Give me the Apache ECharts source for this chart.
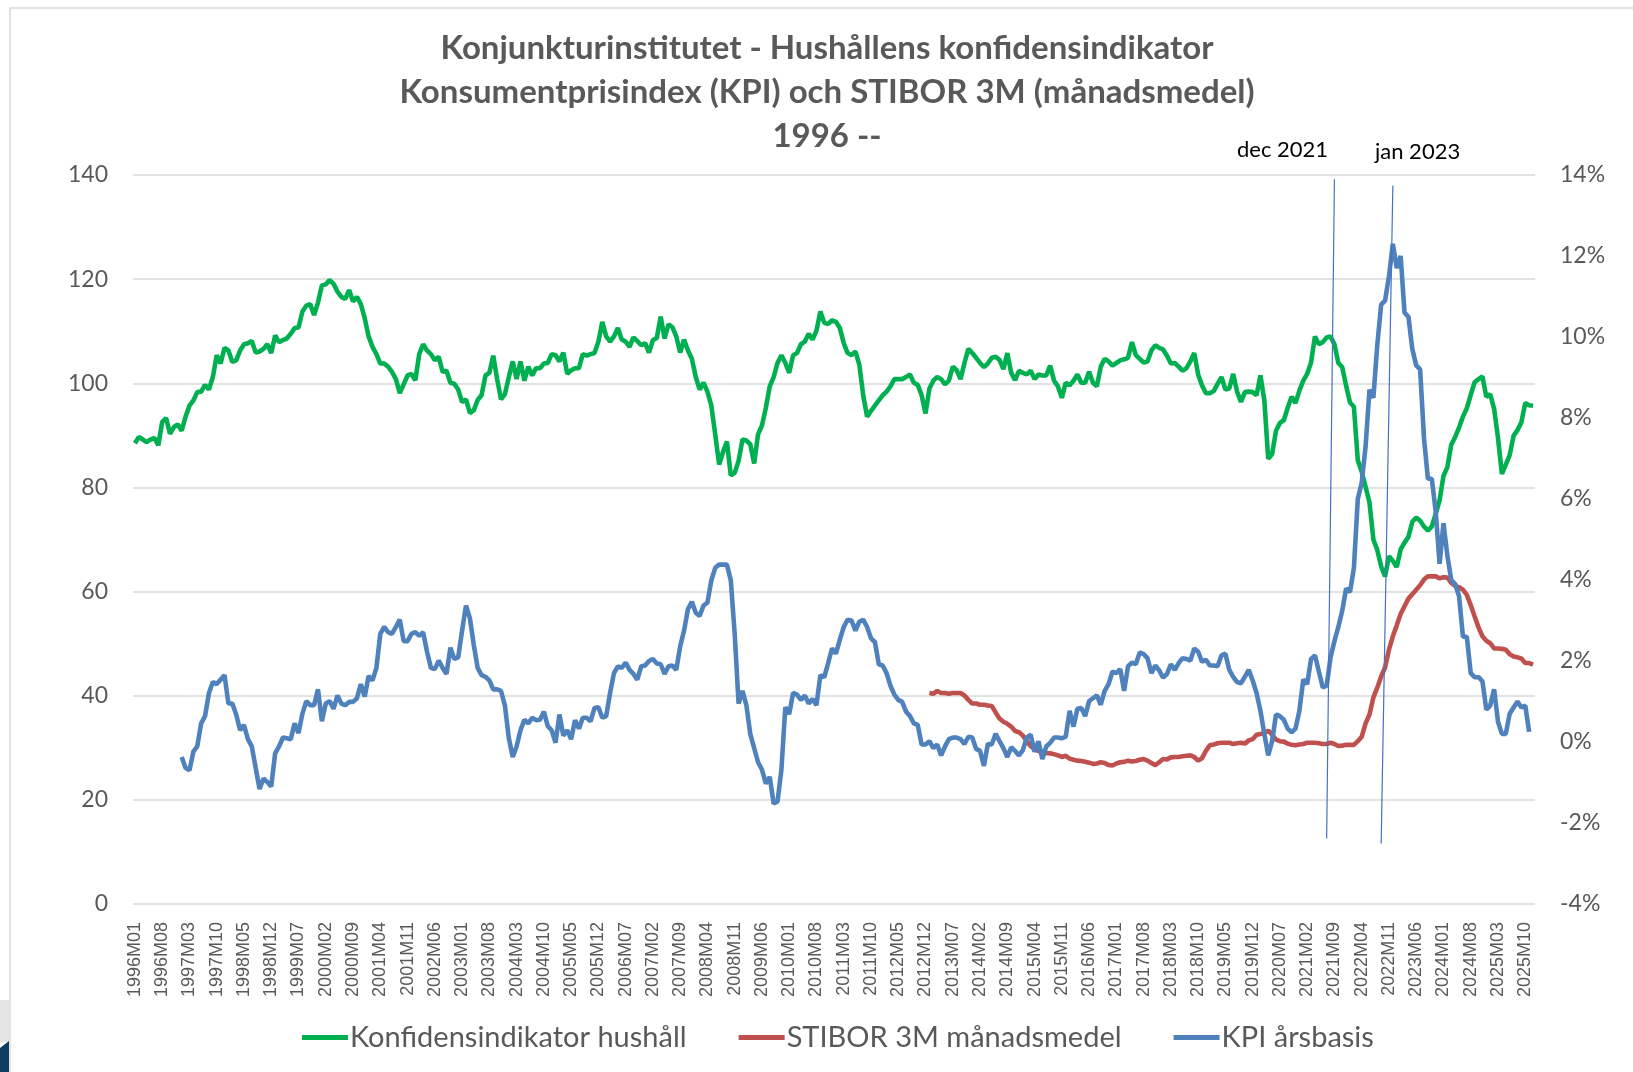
<!DOCTYPE html>
<html>
<head>
<meta charset="utf-8">
<title>Hushållens konfidensindikator, KPI och STIBOR 3M</title>
<script src="https://cdn.jsdelivr.net/npm/echarts/dist/echarts.min.js"></script>
<style>
html, body { margin: 0; padding: 0; background: #fff; }
#chart { width: 1633px; height: 1072px; }
</style>
</head>
<body>
<div id="chart"></div>
<script>
// månader 1996M01 .. 2025M12
const months = []
for (let y = 1996; y <= 2025; y++) {
  for (let m = 1; m <= 12; m++) months.push(y + 'M' + (m < 10 ? '0' + m : m))
}

// Konfidensindikator hushåll, från 1996M01
const konfidens = [
  88.5, 89.7, 89.2, 88.7, 89.2, 89.5, 88.1, 92.6, 93.3, 90.3, 91.6, 92.1,
  90.9, 93.6, 95.7, 96.7, 98.3, 98.4, 99.7, 98.8, 101.2, 105.4, 103.8, 106.8,
  106.3, 104.1, 104.4, 106.3, 107.5, 107.7, 108.1, 105.9, 106.1, 106.6, 107.5, 105.8,
  109.2, 107.9, 108.3, 108.6, 109.5, 110.6, 110.7, 113.8, 114.9, 115.2, 113.1, 115.5,
  118.8, 119.0, 119.8, 119.1, 117.6, 116.6, 116.2, 117.9, 115.7, 116.6, 115.2, 112.5,
  109.0, 107.0, 105.6, 103.8, 103.8, 103.2, 102.2, 100.8, 98.1, 99.8, 101.5, 101.8,
  100.6, 105.6, 107.5, 106.3, 105.6, 104.4, 105.1, 102.2, 102.4, 100.1, 99.9, 98.8,
  96.4, 96.9, 94.3, 94.8, 96.8, 97.7, 101.5, 102.0, 105.3, 100.8, 96.9, 97.9,
  101.2, 104.2, 100.8, 104.2, 100.5, 103.2, 101.5, 102.9, 102.9, 103.8, 103.9, 105.6,
  105.4, 104.2, 105.9, 101.8, 102.5, 102.9, 102.9, 105.6, 105.3, 105.6, 105.8, 108.0,
  111.8, 109.0, 108.0, 109.0, 110.6, 108.4, 108.0, 107.0, 108.8, 108.1, 107.3, 107.7,
  105.9, 108.3, 108.7, 112.8, 108.6, 111.3, 110.8, 109.0, 105.9, 108.4, 106.3, 104.7,
  101.2, 98.8, 100.1, 98.4, 95.7, 90.2, 84.4, 86.8, 88.8, 82.3, 82.8, 85.1,
  89.2, 89.0, 88.3, 84.6, 90.2, 91.9, 95.3, 99.4, 101.2, 103.9, 105.4, 103.9,
  102.0, 105.4, 105.8, 107.5, 108.0, 109.5, 108.4, 110.1, 113.8, 111.6, 111.4, 112.1,
  111.8, 110.6, 107.7, 105.8, 105.4, 106.1, 103.6, 97.7, 93.6, 94.7, 95.7, 96.7,
  97.7, 98.4, 99.4, 100.8, 100.8, 100.8, 101.2, 101.7, 100.1, 99.7, 97.7, 94.2,
  99.0, 100.5, 101.2, 100.8, 99.8, 100.5, 103.2, 102.5, 100.8, 103.9, 106.6, 105.8,
  104.9, 103.9, 103.1, 103.8, 104.9, 105.1, 104.5, 102.7, 105.8, 102.0, 100.6, 102.4,
  102.0, 101.7, 102.4, 100.8, 101.7, 101.5, 101.5, 103.4, 100.5, 99.4, 97.2, 100.1,
  99.6, 100.5, 101.7, 100.1, 100.1, 102.2, 100.1, 99.4, 103.2, 104.7, 104.2, 103.4,
  103.9, 104.4, 104.6, 104.9, 107.9, 105.4, 104.7, 104.0, 104.2, 106.3, 107.3, 106.8,
  106.5, 105.3, 103.8, 103.9, 103.2, 102.4, 102.9, 104.2, 105.8, 101.7, 99.6, 98.1,
  98.1, 98.5, 99.9, 101.2, 98.8, 99.0, 101.8, 98.4, 96.4, 98.3, 98.4, 98.3,
  97.7, 101.5, 96.7, 85.5, 86.4, 90.9, 92.4, 92.9, 95.3, 97.4, 96.2, 98.6,
  100.5, 101.8, 104.0, 109.0, 107.5, 107.9, 108.8, 109.0, 107.5, 103.9, 103.1, 99.5,
  96.3, 95.5, 85.2, 83.0, 80.1, 77.1, 70.0, 68.0, 64.8, 62.9, 66.8, 65.9,
  64.7, 68.1, 69.4, 70.5, 73.4, 74.2, 73.6, 72.5, 71.7, 72.5, 74.9, 77.5,
  82.2, 83.9, 88.2, 89.7, 91.5, 93.6, 95.2, 97.8, 100.2, 100.8, 101.3, 97.4,
  97.9, 95.1, 89.5, 82.6, 84.4, 86.2, 89.9, 91.0, 92.5, 96.2, 95.8, 95.7
]

// STIBOR 3M månadsmedel (%), från 2013M01
const stiborStart = '2013M01'
const stibor = [
  1.21, 1.19, 1.26, 1.21, 1.21, 1.19, 1.21, 1.21, 1.21, 1.15, 1.04, 0.95,
  0.95, 0.92, 0.92, 0.90, 0.89, 0.73, 0.58, 0.50, 0.45, 0.38, 0.27, 0.24,
  0.16, 0.03, -0.10, -0.18, -0.22, -0.24, -0.27, -0.28, -0.30, -0.33, -0.37, -0.34,
  -0.41, -0.44, -0.46, -0.47, -0.49, -0.51, -0.54, -0.53, -0.50, -0.52, -0.57, -0.58,
  -0.53, -0.50, -0.49, -0.46, -0.48, -0.47, -0.44, -0.42, -0.46, -0.52, -0.57, -0.50,
  -0.42, -0.43, -0.38, -0.37, -0.37, -0.35, -0.34, -0.33, -0.37, -0.46, -0.40, -0.22,
  -0.08, -0.06, -0.03, -0.02, -0.02, -0.02, -0.05, -0.03, -0.02, -0.04, 0.04, 0.07,
  0.18, 0.20, 0.22, 0.28, 0.18, 0.06, 0.02, 0.01, -0.04, -0.07, -0.08, -0.06,
  -0.05, -0.02, -0.02, -0.02, -0.03, -0.05, -0.05, -0.02, -0.05, -0.10, -0.09, -0.07,
  -0.07, -0.07, 0.02, 0.13, 0.46, 0.68, 1.10, 1.34, 1.62, 1.84, 2.28, 2.61,
  2.88, 3.16, 3.35, 3.54, 3.65, 3.76, 3.87, 4.01, 4.09, 4.09, 4.09, 4.04,
  4.07, 4.06, 3.93, 3.85, 3.82, 3.76, 3.63, 3.38, 3.10, 2.83, 2.61, 2.50,
  2.44, 2.31, 2.31, 2.30, 2.28, 2.17, 2.11, 2.09, 2.06, 1.95, 1.95, 1.91
]

// KPI årsbasis (%), från 1997M01
const kpiStart = '1997M01'
const kpi = [
  -0.37, -0.64, -0.70, -0.24, -0.11, 0.46, 0.64, 1.21, 1.48, 1.43, 1.54, 1.65,
  0.95, 0.95, 0.68, 0.29, 0.42, 0.07, -0.11, -0.64, -1.16, -0.90, -0.99, -1.10,
  -0.28, -0.11, 0.11, 0.09, 0.07, 0.46, 0.22, 0.70, 1.01, 0.91, 0.91, 1.30,
  0.51, 0.95, 1.01, 0.82, 1.15, 0.95, 0.91, 0.99, 0.99, 1.08, 1.43, 1.12,
  1.63, 1.52, 1.83, 2.67, 2.84, 2.71, 2.67, 2.84, 3.02, 2.49, 2.49, 2.67,
  2.71, 2.62, 2.71, 2.23, 1.83, 1.80, 2.01, 1.83, 1.68, 2.33, 2.05, 2.09,
  2.75, 3.37, 3.06, 2.40, 1.83, 1.65, 1.61, 1.52, 1.30, 1.30, 1.26, 0.90,
  0.10, -0.37, -0.11, 0.29, 0.55, 0.46, 0.60, 0.54, 0.55, 0.75, 0.39, 0.29,
  -0.02, 0.68, 0.16, 0.29, 0.07, 0.54, 0.33, 0.60, 0.60, 0.51, 0.84, 0.86,
  0.60, 0.64, 1.21, 1.70, 1.87, 1.83, 1.96, 1.78, 1.68, 1.54, 1.87, 1.89,
  2.00, 2.05, 1.94, 1.92, 1.68, 1.87, 1.89, 1.78, 2.36, 2.75, 3.28, 3.46,
  3.19, 3.11, 3.37, 3.44, 3.99, 4.30, 4.38, 4.38, 4.38, 3.99, 2.67, 0.95,
  1.26, 0.91, 0.20, -0.15, -0.50, -0.68, -1.03, -0.86, -1.52, -1.47, -0.68, 0.86,
  0.69, 1.21, 1.17, 1.04, 1.15, 0.95, 1.06, 0.91, 1.65, 1.60, 1.95, 2.31,
  2.18, 2.53, 2.84, 3.02, 3.00, 2.75, 2.97, 3.02, 2.84, 2.56, 2.47, 1.92,
  1.89, 1.70, 1.39, 1.17, 1.04, 0.99, 0.75, 0.64, 0.46, 0.42, -0.06, -0.06,
  0.02, -0.15, -0.06, -0.33, -0.11, 0.07, 0.11, 0.11, 0.07, -0.05, 0.13, 0.11,
  -0.17, -0.22, -0.59, -0.05, -0.06, 0.20, 0.02, -0.15, -0.37, -0.13, -0.22, -0.33,
  -0.20, 0.11, 0.18, -0.24, 0.02, -0.42, -0.11, -0.02, 0.11, 0.11, 0.09, 0.13,
  0.77, 0.38, 0.82, 0.84, 0.64, 1.01, 1.08, 1.15, 0.92, 1.26, 1.43, 1.74,
  1.70, 1.80, 1.26, 1.87, 1.96, 1.92, 2.21, 2.17, 2.07, 1.70, 1.89, 1.77,
  1.59, 1.68, 1.92, 1.78, 1.95, 2.07, 2.05, 2.01, 2.31, 2.23, 1.98, 2.03,
  1.89, 1.89, 1.87, 2.14, 2.18, 1.78, 1.61, 1.48, 1.45, 1.61, 1.78, 1.52,
  1.21, 0.77, 0.20, -0.33, 0.02, 0.68, 0.64, 0.55, 0.33, 0.24, 0.33, 0.77,
  1.54, 1.43, 2.05, 2.14, 1.74, 1.35, 1.39, 2.09, 2.49, 2.84, 3.24, 3.79,
  3.70, 4.30, 6.00, 6.40, 7.30, 8.70, 8.50, 9.80, 10.80, 10.90, 11.50, 12.30,
  11.70, 12.00, 10.60, 10.50, 9.70, 9.30, 9.20, 7.50, 6.50, 6.50, 5.70, 4.40,
  5.40, 4.60, 4.00, 3.90, 3.60, 2.60, 2.60, 1.70, 1.60, 1.60, 1.50, 0.80,
  0.90, 1.30, 0.50, 0.20, 0.20, 0.70, 0.85, 1.00, 0.85, 0.90, 0.25
]

// hjälplinjer (dec 2021, jan 2023): [månadsindex, värde] topp och botten
const markDec2021 = [[308.4, 139.2], [305.7, 12.6]]
const markJan2023 = [[323.1, 138.0], [320.4, 11.6]]

function alignTo (start, values) {
  const out = new Array(months.length).fill(null)
  const i0 = months.indexOf(start)
  values.forEach((v, i) => { out[i0 + i] = v })
  return out
}

const grey = '#595959'
const font = 'Lato, "Open Sans", sans-serif'

const chart = echarts.init(document.getElementById('chart'))

const option = {
  animation: false,
  backgroundColor: '#fff',
  textStyle: { fontFamily: font },
  title: {
    text: 'Konjunkturinstitutet - Hushållens konfidensindikator\nKonsumentprisindex (KPI) och STIBOR 3M (månadsmedel)\n1996 --',
    left: 827,
    textAlign: 'center',
    top: 26,
    padding: 0,
    textStyle: {
      fontFamily: font,
      fontSize: 33,
      fontWeight: 'bold',
      color: grey,
      lineHeight: 44
    }
  },
  legend: {
    bottom: 15,
    left: 297,
    itemGap: 52,
    itemWidth: 46,
    itemHeight: 5,
    icon: 'rect',
    textStyle: { fontFamily: font, fontSize: 29, color: grey, padding: [0, 0, 0, -3] },
    data: ['Konfidensindikator hushåll', 'STIBOR 3M månadsmedel', 'KPI årsbasis']
  },
  grid: { left: 133, right: 98, top: 175, bottom: 168 },
  xAxis: {
    type: 'category',
    data: months,
    axisLine: { show: false },
    axisTick: { show: false },
    axisLabel: {
      interval: 6,
      rotate: 90,
      margin: 18,
      fontFamily: '"Liberation Sans", Arial, sans-serif',
      fontSize: 18,
      color: grey
    }
  },
  yAxis: [
    {
      type: 'value',
      min: 0,
      max: 140,
      interval: 20,
      axisLine: { show: false },
      axisTick: { show: false },
      axisLabel: { fontSize: 23, color: grey, margin: 25 },
      splitLine: { lineStyle: { color: '#d9d9d9', width: 1.5 } }
    },
    {
      type: 'value',
      min: -4,
      max: 14,
      interval: 2,
      axisLine: { show: false },
      axisTick: { show: false },
      axisLabel: { fontSize: 23, color: grey, margin: 25, formatter: '{value}%' },
      splitLine: { show: false }
    }
  ],
  series: [
    {
      name: 'Konfidensindikator hushåll',
      type: 'line',
      data: konfidens,
      yAxisIndex: 0,
      showSymbol: false,
      lineStyle: { color: '#00b050', width: 4.6 },
      itemStyle: { color: '#00b050' },
      markLine: {
        silent: true,
        symbol: 'none',
        label: { show: false },
        lineStyle: { color: '#4472c4', width: 1.2, type: 'solid' },
        data: [
          [{ coord: markDec2021[0] }, { coord: markDec2021[1] }],
          [{ coord: markJan2023[0] }, { coord: markJan2023[1] }]
        ]
      }
    },
    {
      name: 'STIBOR 3M månadsmedel',
      type: 'line',
      data: alignTo(stiborStart, stibor),
      yAxisIndex: 1,
      showSymbol: false,
      lineStyle: { color: '#c0504d', width: 4.6 },
      itemStyle: { color: '#c0504d' }
    },
    {
      name: 'KPI årsbasis',
      type: 'line',
      data: alignTo(kpiStart, kpi),
      yAxisIndex: 1,
      showSymbol: false,
      lineStyle: { color: '#4f81bd', width: 4.6 },
      itemStyle: { color: '#4f81bd' }
    }
  ],
  graphic: [
    {
      type: 'rect',
      shape: { x: 10, y: 8, width: 1640, height: 1080 },
      style: { fill: 'none', stroke: '#d9d9d9', lineWidth: 1.5 },
      silent: true
    },
    {
      type: 'rect',
      shape: { x: 0, y: 1000, width: 9, height: 42 },
      style: { fill: '#e4e4e4' },
      silent: true
    },
    {
      type: 'polygon',
      shape: { points: [[0, 1048], [9, 1041], [9, 1072], [0, 1072]] },
      style: { fill: '#0f3d61' },
      silent: true
    },
    {
      type: 'text',
      left: 1237,
      top: 139,
      style: { text: 'dec 2021', fontFamily: font, fontSize: 22, fill: '#000' }
    },
    {
      type: 'text',
      left: 1375,
      top: 141,
      style: { text: 'jan 2023', fontFamily: font, fontSize: 22, fill: '#000' }
    }
  ]
}

chart.setOption(option)
</script>
</body>
</html>
